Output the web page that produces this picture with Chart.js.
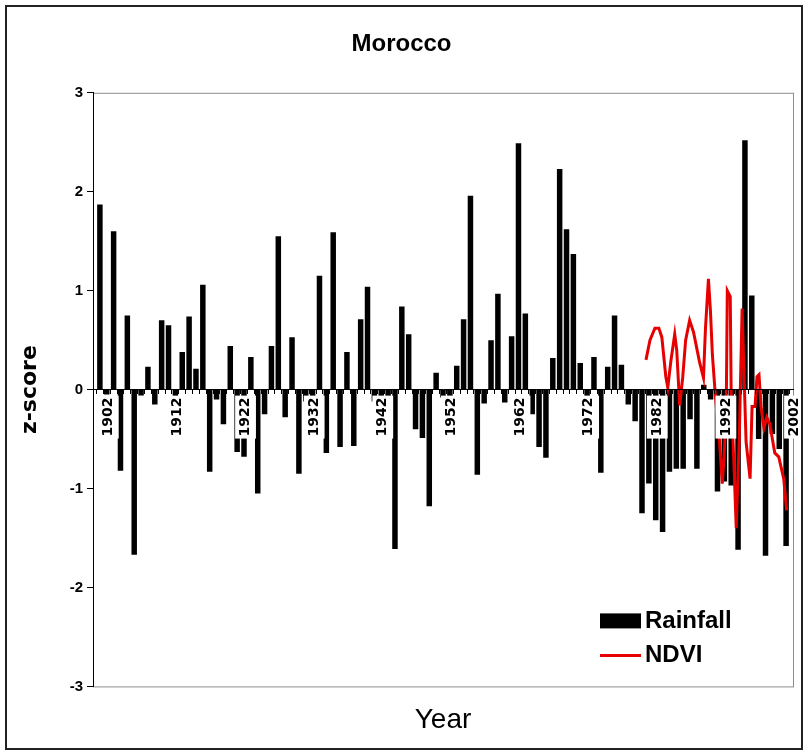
<!DOCTYPE html>
<html>
<head>
<meta charset="utf-8">
<title>Morocco</title>
<script src="https://cdn.jsdelivr.net/npm/chart.js@4.4.1/dist/chart.umd.min.js"></script>
<style>
    html, body { margin: 0; padding: 0; background: #fff; }
    #wrap { width: 808px; height: 754px; }
</style>
</head>
<body>
<div id="wrap"><canvas id="myChart"></canvas></div>
<script>
// categories: one bar per year
const years = Array.from({length: 101}, (_, i) => 1902 + i);
const tick_years = [1902, 1912, 1922, 1932, 1942, 1952, 1962, 1972, 1982, 1992, 2002];
const y_ticks = [-3, -2, -1, 0, 1, 2, 3];

// rainfall z-score, 1902 .. 2002
const rainfall = [
    1.87, -0.05, 1.60, -0.82, 0.75, -1.67, -0.06, 0.23, -0.15, 0.70,   // 1902-1911
    0.65, -0.12, 0.38, 0.74, 0.21, 1.06, -0.83, -0.10, -0.35, 0.44,    // 1912-1921
    -0.63, -0.68, 0.33, -1.05, -0.25, 0.44, 1.55, -0.28, 0.53, -0.85,  // 1922-1931
    -0.12, -0.10, 1.15, -0.64, 1.59, -0.58, 0.38, -0.57, 0.71, 1.04,   // 1932-1941
    -0.12, -0.10, -0.21, -1.61, 0.84, 0.56, -0.40, -0.49, -1.18, 0.17, // 1942-1951
    -0.08, -0.13, 0.24, 0.71, 1.96, -0.86, -0.14, 0.50, 0.97, -0.13,   // 1952-1961
    0.54, 2.49, 0.77, -0.25, -0.58, -0.69, 0.32, 2.23, 1.62, 1.37,     // 1962-1971
    0.27, -0.15, 0.33, -0.84, 0.23, 0.75, 0.25, -0.15, -0.32, -1.25,   // 1972-1981
    -0.95, -1.32, -1.44, -0.83, -0.80, -0.80, -0.30, -0.80, 0.05, -0.10, // 1982-1991
    -1.03, -0.93, -0.97, -1.62, 2.52, 0.95, -0.50, -1.68, -0.45, -0.60,  // 1992-2001
    -1.58                                                                // 2002
];

// NDVI z-score, sub-yearly points
const ndvi_years = [
    1981.58, 1982.16, 1982.88, 1983.46, 1983.89, 1984.47, 1984.76, 1985.19,
    1985.77, 1986.06, 1986.49, 1986.93, 1987.36, 1987.94, 1988.51, 1989.38,
    1989.96, 1990.25, 1990.68, 1990.97, 1991.26, 1991.69, 1992.27, 1992.70,
    1992.99, 1993.28, 1993.43, 1993.86, 1994.00, 1994.44, 1994.73, 1995.16,
    1995.59, 1995.88, 1996.17, 1996.75, 1997.04, 1997.47, 1997.76, 1998.05,
    1998.34, 1998.77, 1999.19, 1999.63, 2000.35, 2000.93, 2001.65, 2002.08
];
const ndvi_values = [
    0.30, 0.50, 0.62, 0.62, 0.53, 0.13, 0.02, 0.28,
    0.56, 0.40, -0.16, 0.12, 0.50, 0.70, 0.58, 0.28,
    0.12, 0.62, 1.12, 0.80, 0.35, -0.06, -0.50, -0.95,
    -0.64, -0.17, 1.00, 0.94, -0.06, -0.83, -1.40, -0.53,
    0.82, 0.13, -0.53, -0.90, -0.17, -0.17, 0.13, 0.15,
    -0.17, -0.39, -0.28, -0.35, -0.64, -0.68, -0.90, -1.22
];

const narrow = "'Liberation Sans Narrow', 'Liberation Sans', Arial, sans-serif";
const wide = "'DejaVu Sans', 'Liberation Sans', sans-serif";

// white page, outer frame and grey plot border
const frame_plugin = {
    id: 'frame',
    beforeDraw(chart) {
        const {ctx, chartArea: a} = chart;
        ctx.save();
        ctx.fillStyle = '#fff';
        ctx.fillRect(0, 0, chart.width, chart.height);
        ctx.strokeStyle = '#8c8c8c';
        ctx.lineWidth = 1;
        ctx.strokeRect(a.left + 0.5, a.top + 0.5, a.width, a.height);
        ctx.restore();
    },
    afterDraw(chart) {
        const ctx = chart.ctx;
        ctx.save();
        ctx.strokeStyle = '#222';
        ctx.lineWidth = 2;
        ctx.strokeRect(6, 6, chart.width - 12, chart.height - 11);
        ctx.restore();
    }
};

// legend sits inside the plot, bottom right
const legend_plugin = {
    id: 'innerLegend',
    afterDraw(chart) {
        const {ctx, chartArea: a} = chart;
        const bar_ds = chart.data.datasets[1];
        const line_ds = chart.data.datasets[0];
        const x0 = a.right - 193;
        ctx.save();
        ctx.font = "bold 24px " + narrow;
        ctx.textBaseline = 'middle';
        ctx.fillStyle = bar_ds.backgroundColor;
        ctx.fillRect(x0, a.bottom - 73, 41, 15);
        ctx.fillStyle = '#000';
        ctx.fillText(bar_ds.label, x0 + 45, a.bottom - 65);
        ctx.strokeStyle = line_ds.borderColor;
        ctx.lineWidth = 3;
        ctx.beginPath();
        ctx.moveTo(x0, a.bottom - 31);
        ctx.lineTo(x0 + 41, a.bottom - 31);
        ctx.stroke();
        ctx.fillStyle = '#000';
        ctx.fillText(line_ds.label, x0 + 45, a.bottom - 31);
        ctx.restore();
    }
};

const ctx = document.getElementById('myChart').getContext('2d');
new Chart(ctx, {
    type: 'bar',
    data: {
        datasets: [{
            type: 'line',
            label: 'NDVI',
            data: ndvi_years.map((x, i) => ({x: x, y: ndvi_values[i]})),
            borderColor: '#e60000',
            borderWidth: 3,
            pointRadius: 0,
            tension: 0,
            order: 0
        }, {
            type: 'bar',
            label: 'Rainfall',
            data: years.map((x, i) => ({x: x, y: rainfall[i]})),
            backgroundColor: '#000',
            barPercentage: 0.8,
            categoryPercentage: 1,
            order: 1
        }]
    },
    options: {
        responsive: true,
        maintainAspectRatio: false,
        animation: false,
        devicePixelRatio: 1,
        layout: { padding: { left: 10, right: 15, top: 0, bottom: 0 } },
        plugins: {
            legend: { display: false },
            tooltip: { enabled: false },
            title: {
                display: true,
                text: 'Morocco',
                color: '#000',
                font: { family: narrow, size: 24, weight: 'bold' },
                padding: { top: 30, bottom: 34 }
            }
        },
        scales: {
            x: {
                type: 'linear',
                min: 1901.5,
                max: 2002.5,
                position: { y: 0 },
                afterBuildTicks: (scale) => {
                    scale.ticks = years.map(v => ({value: v}));
                },
                ticks: {
                    z: 1,
                    autoSkip: false,
                    minRotation: 90,
                    maxRotation: 90,
                    padding: 4,
                    color: '#000',
                    font: { family: wide, size: 14, weight: 'bold' },
                    callback: (v) => tick_years.includes(v) ? String(v) : '',
                    showLabelBackdrop: (c) => c.tick && tick_years.includes(c.tick.value),
                    backdropColor: '#fff',
                    backdropPadding: 2
                },
                grid: { z: 1, drawOnChartArea: false, color: '#000', tickLength: 4 },
                border: { z: 1, color: '#000', width: 1 }
            },
            x_bottom: {
                type: 'linear',
                min: 1901.5,
                max: 2002.5,
                position: 'bottom',
                ticks: { display: false },
                grid: { display: false, drawTicks: false },
                border: { display: false },
                title: {
                    display: true,
                    text: 'Year',
                    color: '#000',
                    font: { family: "'Liberation Sans', Arial, sans-serif", size: 28 },
                    padding: { top: 17, bottom: 17 }
                }
            },
            y: {
                min: -3,
                max: 3,
                afterBuildTicks: (scale) => {
                    scale.ticks = y_ticks.map(v => ({value: v}));
                },
                afterFit: (scale) => { scale.width = 83; },
                ticks: {
                    color: '#000',
                    padding: 4,
                    font: { family: "'Liberation Sans', Arial, sans-serif", size: 15, weight: 'bold' }
                },
                grid: { drawOnChartArea: false, color: '#000', tickLength: 6 },
                border: { color: '#000', width: 1 },
                title: {
                    display: true,
                    text: 'z-score',
                    color: '#000',
                    font: { family: wide, size: 22, weight: 'bold' },
                    padding: { top: 7, bottom: 0 }
                }
            }
        }
    },
    plugins: [frame_plugin, legend_plugin]
});
</script>
</body>
</html>
